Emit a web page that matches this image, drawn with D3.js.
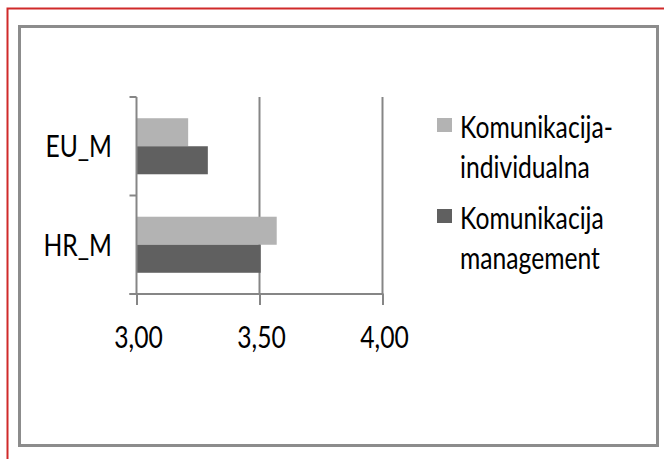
<!DOCTYPE html>
<html>
<head>
<meta charset="utf-8">
<script src="https://cdn.jsdelivr.net/npm/d3@7"></script>
<style>
  html, body { margin: 0; padding: 0; background: #fff; }
  svg { display: block; }
  text { font-family: Lato, "Liberation Sans", Arial, sans-serif; fill: #000; }
</style>
</head>
<body>
<svg id="chart" width="664" height="459"></svg>
<script>
const categories = ["EU_M", "HR_M"];
const seriesNames = ["Komunikacija-individualna", "Komunikacija management"];
const seriesLegendLines = [["Komunikacija-", "individualna"], ["Komunikacija", "management"]];
const individualna = [3.21, 3.57];
const management = [3.29, 3.505];
const xTicks = [3.0, 3.5, 4.0];
const xTickLabels = ["3,00", "3,50", "4,00"];
const colors = ["#b3b3b3", "#606060"];

const svg = d3.select("#chart");
const FS = 30;

// measure compression so the legend word matches the original width (~153px)
const probe = svg.append("text").attr("font-size", FS).text("Komunikacija-");
const probeW = probe.node().getComputedTextLength();
probe.remove();
const SX = Math.min(1, 153 / probeW);

// Outer frames
svg.append("path")
  .attr("d", "M7.5,459 V8.5 H664")
  .attr("fill", "none").attr("stroke", "#d02a2a").attr("stroke-width", 2);
svg.append("rect")
  .attr("x", 19.5).attr("y", 26.5).attr("width", 638).attr("height", 419)
  .attr("fill", "none").attr("stroke", "#8c8c8c").attr("stroke-width", 3);

const x = d3.scaleLinear().domain([3, 4]).range([136.5, 382.5]);
const y = d3.scaleBand().domain(categories).range([97, 294])
  .paddingInner(0.431).paddingOuter(0.2155);
const ySub = d3.scaleBand().domain([0, 1]).range([0, y.bandwidth()]);

const axisColor = "#868686";

// gridlines
const g = svg.append("g");
g.selectAll("line.grid").data(xTicks.slice(1)).join("line")
  .attr("x1", d => x(d)).attr("x2", d => x(d))
  .attr("y1", 97).attr("y2", 294)
  .attr("stroke", axisColor).attr("stroke-width", 2);

// bars
const rows = categories.map((c, i) => ({ c, vals: [individualna[i], management[i]] }));
rows.forEach(r => {
  r.vals.forEach((v, si) => {
    g.append("rect")
      .attr("x", x(3))
      .attr("y", y(r.c) + ySub(si))
      .attr("width", x(v) - x(3))
      .attr("height", ySub.bandwidth())
      .attr("fill", colors[si]);
  });
});

// x axis
const xAxis = d3.axisBottom(x).tickValues(xTicks).tickSize(11).tickFormat((d, i) => xTickLabels[i]);
const xg = svg.append("g").attr("transform", "translate(0,294)").call(xAxis);
xg.select(".domain").remove();
xg.selectAll(".tick line").attr("stroke", axisColor).attr("stroke-width", 2);
xg.selectAll(".tick text").remove();
xg.append("line").attr("x1", 129.5).attr("x2", x(4) + 1).attr("y1", 0).attr("y2", 0)
  .attr("stroke", axisColor).attr("stroke-width", 2);
xTicks.forEach((d, i) => {
  svg.append("text")
    .attr("transform", `translate(${x(d) + 2},348) scale(${SX},1)`)
    .attr("text-anchor", "middle").attr("font-size", FS)
    .text(xTickLabels[i]);
});

// y axis
svg.append("line").attr("x1", x(3)).attr("x2", x(3)).attr("y1", 97).attr("y2", 295)
  .attr("stroke", axisColor).attr("stroke-width", 2);
const yBounds = [97, y("HR_M") - y.step() * y.paddingInner() / 2, 294];
yBounds.forEach(b => {
  svg.append("line").attr("x1", 129.5).attr("x2", x(3)).attr("y1", b).attr("y2", b)
    .attr("stroke", axisColor).attr("stroke-width", 2);
});
categories.forEach(c => {
  svg.append("text")
    .attr("transform", `translate(112,${y(c) + y.bandwidth() / 2 + 11}) scale(${SX},1)`)
    .attr("text-anchor", "end").attr("font-size", FS)
    .text(c);
});

// legend
const legendTop = [118, 209];
seriesNames.forEach((s, i) => {
  const lg = svg.append("g");
  lg.append("rect").attr("x", 437).attr("y", legendTop[i]).attr("width", 15).attr("height", 14)
    .attr("fill", colors[i]);
  seriesLegendLines[i].forEach((line, li) => {
    lg.append("text")
      .attr("transform", `translate(460,${legendTop[i] + 20 + li * 40}) scale(${SX},1)`)
      .attr("font-size", FS)
      .text(line);
  });
});
</script>
</body>
</html>
